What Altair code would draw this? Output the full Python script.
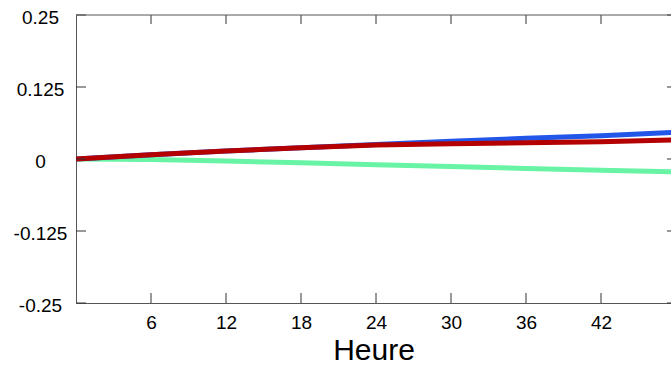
import altair as alt
import pandas as pd

# ---- data ----
hours = [0, 6, 12, 18, 24, 30, 36, 42, 48]
blue_vals = [0.0, 0.0075, 0.014, 0.0195, 0.0250, 0.0310, 0.0360, 0.0405, 0.0465]
red_vals = [0.0, 0.0075, 0.014, 0.0195, 0.0245, 0.0265, 0.0280, 0.0300, 0.0330]
green_vals = [0.0, -0.0010, -0.0035, -0.0065, -0.0100, -0.0130, -0.0165, -0.0195, -0.0225]

x_tick_values = [6, 12, 18, 24, 30, 36, 42]
y_tick_values = [0.25, 0.125, 0, -0.125, -0.25]

W, H = 595, 288
FONT = "Liberation Sans"

rows = []
for name, vals in [("green", green_vals), ("blue", blue_vals), ("red", red_vals)]:
    for h, v in zip(hours, vals):
        rows.append({"h": h, "v": v, "s": name})
df = pd.DataFrame(rows)

xs = alt.Scale(domain=[0, 47.6], nice=False, zero=False)
ys = alt.Scale(domain=[-0.25, 0.25], nice=False, zero=False)

xaxis = alt.Axis(values=x_tick_values, title="Heure", ticks=False, tickSize=0,
                 domain=True, domainColor="#555555", domainWidth=1, grid=False,
                 labelFont=FONT, labelFontSize=19, labelColor="black",
                 labelPadding=10, labelFlush=False,
                 titleFont=FONT, titleFontSize=30, titleFontWeight="normal",
                 titleColor="black", titleY=56, titleBaseline="alphabetic")
yaxis = alt.Axis(values=y_tick_values, title=None, ticks=False, tickSize=0,
                 domain=True, domainColor="#555555", domainWidth=1, grid=False,
                 labelFont=FONT, labelFontSize=19, labelColor="black",
                 labelAlign="center", labelBaseline="middle", labelPadding=36,
                 labelOffset=2, labelFlush=False,
                 labelExpr="toString(datum.value)")

X = alt.X("h:Q", scale=xs, axis=xaxis)
Y = alt.Y("v:Q", scale=ys, axis=yaxis)

colors = {"green": "#68f4a4", "blue": "#2256e8", "red": "#b40000"}
line_layers = [
    alt.Chart(df).transform_filter(alt.datum.s == name)
    .mark_line(clip=True, strokeWidth=5, color=colors[name])
    .encode(x=X, y=Y)
    for name in ["green", "blue", "red"]
]

xt = pd.DataFrame({"h": x_tick_values})
yt = pd.DataFrame({"v": y_tick_values})
tick_col = "#333333"
bottom_ticks = alt.Chart(xt).mark_rule(color=tick_col, strokeWidth=1).encode(
    x=X, y=alt.value(H), y2=alt.value(H - 10))
top_ticks = alt.Chart(xt).mark_rule(color=tick_col, strokeWidth=1).encode(
    x=X, y=alt.value(0), y2=alt.value(9))
left_ticks = alt.Chart(yt).mark_rule(color=tick_col, strokeWidth=1).encode(
    y=Y, x=alt.value(0), x2=alt.value(10))
right_ticks = alt.Chart(yt).mark_rule(color=tick_col, strokeWidth=1).encode(
    y=Y, x=alt.value(W - 4), x2=alt.value(W))
top_frame = alt.Chart(pd.DataFrame({"k": [0]})).mark_rule(
    color="#555555", strokeWidth=1).encode(
    x=alt.value(0), x2=alt.value(W), y=alt.value(0))

chart = alt.layer(
    *line_layers, bottom_ticks, top_ticks, left_ticks, right_ticks, top_frame
).properties(
    width=W, height=H,
    padding={"left": 76, "top": 15, "right": 0, "bottom": 62},
    autosize=alt.AutoSizeParams(type="none"),
    background="white",
).configure_view(stroke=None)

chart.save("out.html", embed_options={"renderer": "svg", "actions": False})
